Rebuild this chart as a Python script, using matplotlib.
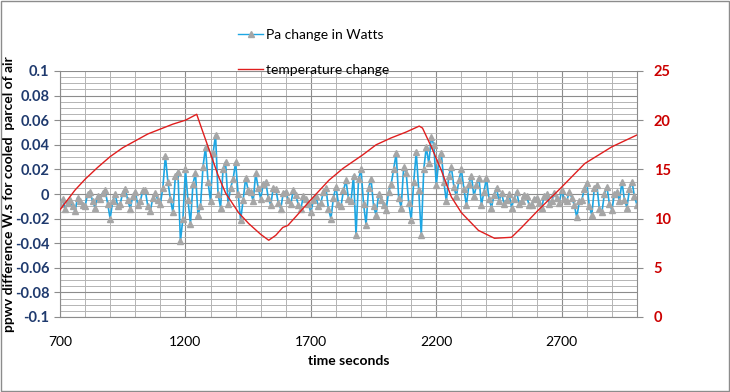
import numpy as np
import matplotlib
matplotlib.use('Agg')
import matplotlib.pyplot as plt
from matplotlib.ticker import MultipleLocator
from matplotlib.lines import Line2D

plt.rcParams['font.family'] = ['Lato', 'DejaVu Sans']

# Pa change series, sampled every 10 s (values in units of 0.001 W.s)
pa_time = np.arange(700, 3001, 10)
pa_change = np.array([
    -8, -4, -12, -7, -5, -10, -14, -3, -6, -9, -10, 0, 2, -6, -11, -2, -4, 1, 3, -8,
    -20, -6, 0, -10, -8, 1, 4, -5, -12, -2, 2, -9, -6, 3, 3, -10, -14, -3, 1, -5,
    -8, 5, 31, 10, -4, -15, 15, 18, -38, -20, 20, -5, -24, 8, 17, -17, -10, 22, 38, 10,
    -6, 33, 48, 0, -11, 20, 26, -8, 5, 12, 26, 0, -21, -5, 13, 3, 2, -6, 17, 5,
    -4, 8, 10, -3, -9, 5, 4, -7, -12, 1, 2, -5, -8, 3, -1, -9, -12, -2, -4, -8,
    -15, -5, -2, -10, -7, 2, 5, -12, -20, -3, 6, -8, -10, 3, 11, -4, -6, 15, -33, 12,
    20, -8, -25, 5, 12, -10, -17, 0, -5, -9, -13, 2, 8, 20, 33, -3, -11, 22, 17, -7,
    -21, 10, 34, 3, -33, 20, 38, 25, 46, 40, 7, 28, 33, 10, -6, 15, 22, 6, -2, 11,
    20, 4, -9, 8, 15, -2, 7, 13, -9, 2, 13, -4, -11, -1, 5, -6, 1, -8, -5, 0,
    -11, -4, 2, -8, -6, -1, -2, -9, -9, -4, -3, -7, -11, -2, 0, -8, -6, 1, -3, -7,
    3, -4, -6, 2, -3, -9, -19, -6, -5, 4, 9, -10, -17, 5, 7, -12, -15, 0, 6, -8,
    -13, 0, 2, -6, 10, -5, -11, 4, 10, -2, -9,
]) / 1000.0

# temperature change (right axis)
temp_time = [700, 730, 760, 800, 850, 900, 950, 1000, 1050, 1100,
             1150, 1200, 1230, 1245, 1264, 1300, 1330, 1360, 1412, 1452,
             1500, 1532, 1560, 1588, 1608, 1640, 1692, 1772, 1828, 1908,
             1960, 2020, 2080, 2132, 2145, 2180, 2220, 2260, 2300, 2368,
             2432, 2500, 2540, 2608, 2688, 2792, 2900, 3000]
temp_change = [10.9, 11.9, 12.9, 14.0, 15.2, 16.3, 17.2, 17.9, 18.6, 19.1,
               19.6, 20.0, 20.4, 20.6, 19.2, 16.6, 14.4, 12.6, 10.6, 9.5,
               8.4, 7.8, 8.3, 9.1, 9.3, 10.2, 11.7, 13.9, 15.1, 16.5,
               17.5, 18.2, 18.8, 19.4, 19.2, 17.3, 14.9, 12.2, 10.6, 8.8,
               8.0, 8.1, 9.1, 10.9, 12.9, 15.6, 17.3, 18.5]

x_ticks = [700, 1200, 1700, 2200, 2700]

blue = '#1DA6E3'
marker_gray = '#A6A6A6'
red = '#E01E1E'
left_col = '#1F3A6E'
right_col = '#CC0000'

fig = plt.figure(figsize=(7.3, 3.92), dpi=100)
ax = fig.add_axes([60 / 730, 75 / 392, 577 / 730, 246 / 392])

ax.plot(pa_time, pa_change, color=blue, linewidth=1.2, marker='^',
        markersize=5, markerfacecolor=marker_gray, markeredgecolor=marker_gray,
        zorder=3)

ax.set_xlim(700, 3000)
ax.set_ylim(-0.1, 0.1)
ax.set_xticks(x_ticks)
ax.xaxis.set_minor_locator(MultipleLocator(100))
ax.yaxis.set_major_locator(MultipleLocator(0.02))
ax.yaxis.set_minor_locator(MultipleLocator(0.005))
ax.set_yticklabels([f'{v:g}' if abs(v) > 1e-9 else '0' for v in ax.get_yticks()])

ax.grid(which='major', color='#8C8C8C', linewidth=0.8)
ax.grid(which='minor', color='#B4B4B4', linewidth=0.7)
ax.set_axisbelow(True)

for s in ['top', 'right']:
    ax.spines[s].set_visible(False)
for s in ['left', 'bottom']:
    ax.spines[s].set_color('#8C8C8C')

ax.tick_params(axis='y', which='major', length=4, color='#8C8C8C',
               labelsize=10.5, labelcolor=left_col)
ax.tick_params(axis='y', which='minor', length=0)
ax.tick_params(axis='x', which='both', length=0, pad=14, labelsize=10)
for lbl in ax.get_yticklabels():
    lbl.set_fontweight('bold')

ax.set_ylabel('ppwv difference W.s for cooled  parcel of air',
              fontsize=10, fontweight='bold')
ax.yaxis.set_label_coords(-0.078, 0.5)
ax.set_xlabel('time seconds', fontsize=10, fontweight='bold')
ax.xaxis.set_label_coords(0.5, -0.155)

ax2 = ax.twinx()
ax2.plot(temp_time, temp_change, color=red, linewidth=1.0)
ax2.set_ylim(0, 25)
ax2.yaxis.set_major_locator(MultipleLocator(5))
for s in ['top', 'left', 'bottom']:
    ax2.spines[s].set_visible(False)
ax2.spines['right'].set_color('#8C8C8C')
ax2.tick_params(axis='y', length=4, color='#8C8C8C', labelsize=10.5,
                labelcolor=right_col, pad=8)
for lbl in ax2.get_yticklabels():
    lbl.set_fontweight('bold')

handles = [
    Line2D([], [], color=blue, marker='^', markersize=5, markerfacecolor=marker_gray,
           markeredgecolor=marker_gray, linewidth=1.0),
    Line2D([], [], color=red, linewidth=1.0),
]
fig.legend(handles, ['Pa change in Watts', 'temperature change'],
           loc='upper left', bbox_to_anchor=(238 / 730, 1 - 29 / 392),
           frameon=False, fontsize=10, handlelength=1.8, handletextpad=0.2,
           labelspacing=1.65, borderpad=0, borderaxespad=0)

fig.patches.append(plt.Rectangle((0.0007, 0.0013), 0.9986, 0.9974,
                                 transform=fig.transFigure, fill=False,
                                 edgecolor='#8C8C8C', linewidth=1.0))

fig.savefig('out.png', dpi=100)
